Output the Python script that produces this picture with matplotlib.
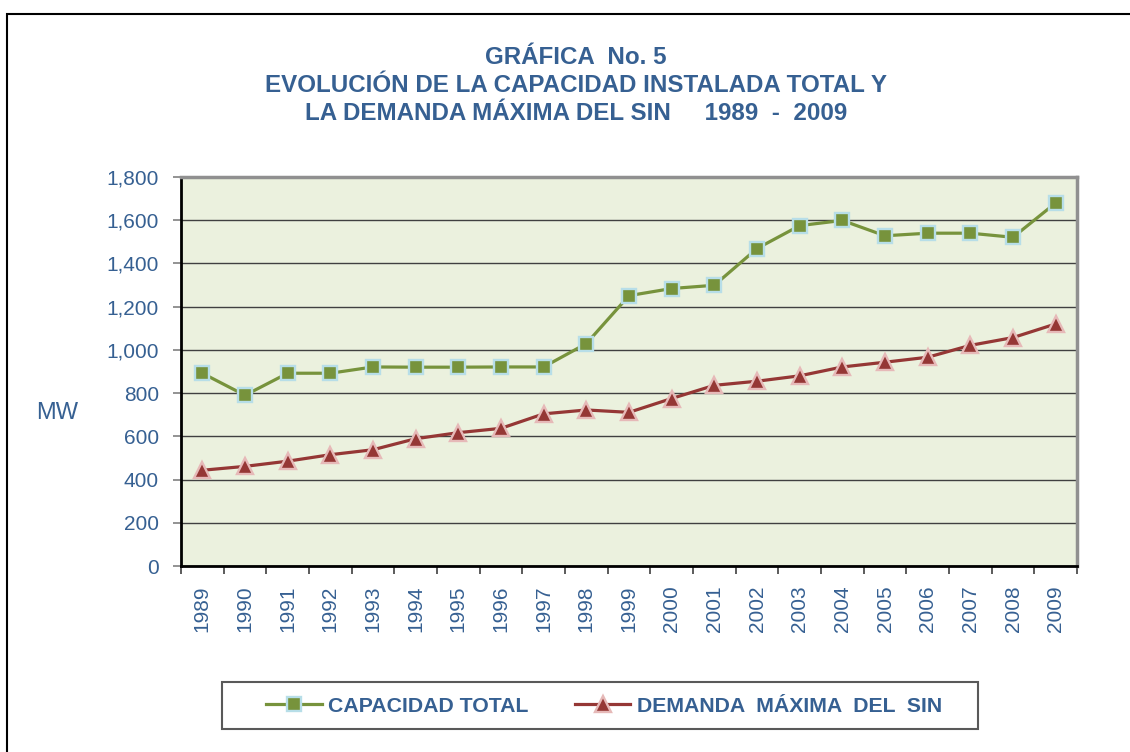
import numpy as np
import matplotlib.pyplot as plt
from matplotlib.patches import Rectangle
from matplotlib.ticker import FuncFormatter

years = [str(y) for y in range(1989, 2010)]
capacidad = [892, 790, 892, 892, 921, 920, 920, 921, 921, 1029, 1251,
             1284, 1299, 1469, 1575, 1599, 1528, 1540, 1540, 1521, 1680]
demanda = [443, 461, 485, 515, 538, 589, 617, 637, 704, 722, 711,
           775, 836, 855, 880, 921, 943, 966, 1021, 1057, 1120]

title_lines = ['GRÁFICA  No. 5',
               'EVOLUCIÓN DE LA CAPACIDAD INSTALADA TOTAL Y',
               'LA DEMANDA MÁXIMA DEL SIN     1989  -  2009']

blue = '#366092'
green = '#77933C'
red = '#953735'

plt.rcParams['font.family'] = ['Liberation Sans', 'DejaVu Sans']

fig = plt.figure(figsize=(11.3, 7.52), dpi=100)
W, H = 1130, 752

# marco exterior
fig.patches.append(Rectangle((7 / W, -0.1), 1.2, 1 - 14 / H + 0.1,
                             transform=fig.transFigure, fill=False,
                             edgecolor='black', lw=1.5))

ax = fig.add_axes([181 / W, 1 - 566 / H, 896 / W, 389 / H])
ax.set_facecolor('#EBF1DE')

x = np.arange(len(years))
ax.plot(x, capacidad, color=green, lw=2.3, marker='s', ms=10,
        mfc=green, mec='#B7DEE8', mew=1.7, label='CAPACIDAD TOTAL', zorder=3)
ax.plot(x, demanda, color=red, lw=2.3, marker='^', ms=11,
        mfc=red, mec='#E6B9B8', mew=1.7, label='DEMANDA  MÁXIMA  DEL  SIN', zorder=3)

ax.set_xlim(-0.5, len(years) - 0.5)
ax.set_ylim(0, 1800)
ax.set_yticks(range(0, 1801, 200))
ax.yaxis.set_major_formatter(FuncFormatter(lambda v, p: f'{int(v):,}'))
ax.grid(axis='y', color='#404040', lw=1)
ax.set_axisbelow(True)

ax.set_xticks(x)
ax.set_xticklabels(years, rotation=90)
ax.set_xticks(np.arange(-0.5, len(years), 1), minor=True)
ax.tick_params(axis='x', which='major', length=0, pad=14, labelsize=15, labelcolor=blue)
ax.tick_params(axis='x', which='minor', length=6, width=1.2, color='#404040')
ax.tick_params(axis='y', length=6, width=1.2, color='#808080', pad=10,
               labelsize=15, labelcolor=blue)

for s in ['left', 'bottom']:
    ax.spines[s].set_color('black')
    ax.spines[s].set_linewidth(2)
for s in ['top', 'right']:
    ax.spines[s].set_color('#909090')
    ax.spines[s].set_linewidth(2.5)

fig.text(57 / W, 1 - 413 / H, 'MW', fontsize=17, color=blue, ha='center', va='center')

for i, line in enumerate(title_lines):
    fig.text(576 / W, 1 - (58 + 28 * i) / H, line, fontsize=17.4, fontweight='bold',
             color=blue, ha='center', va='center')

# leyenda
fig.patches.append(Rectangle((222 / W, 1 - 729 / H), 756 / W, 47 / H,
                             transform=fig.transFigure, fill=False,
                             edgecolor='#595959', lw=1.5))
leg = fig.legend(loc='center', bbox_to_anchor=(604 / W, 1 - 706 / H), ncol=2,
                 frameon=False, prop={'weight': 'bold', 'size': 15.3},
                 handlelength=2.6, handletextpad=0.3, columnspacing=2.2)
for t in leg.get_texts():
    t.set_color(blue)

fig.savefig('out.png', dpi=100)
